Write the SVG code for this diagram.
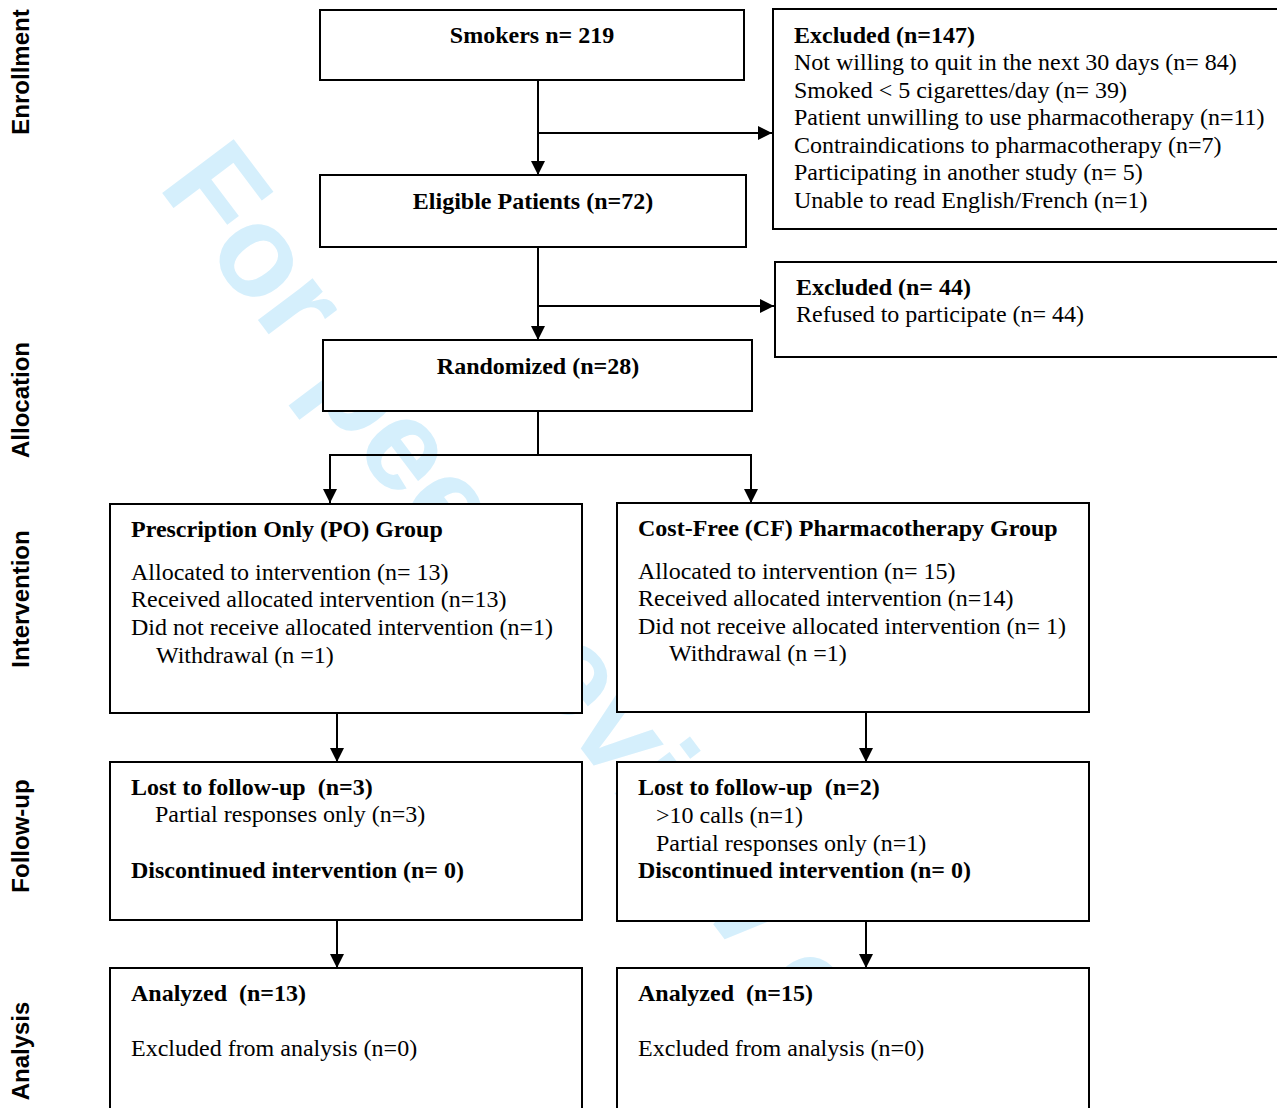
<svg xmlns="http://www.w3.org/2000/svg" width="1277" height="1108" viewBox="0 0 1277 1108">
<style>
.box{fill:#fff;stroke:#000;stroke-width:2}
.t{font-family:"Liberation Serif","Times New Roman",serif;font-size:24px;fill:#000}
.b{font-weight:bold}
.side{font-family:"Liberation Sans",Arial,sans-serif;font-size:24px;font-weight:bold;fill:#000;text-anchor:middle}
.wm{font-family:"Liberation Sans",Arial,sans-serif;font-size:130px;font-weight:bold;fill:#d5effc}
.c{fill:none;stroke:#000;stroke-width:2}
.mid{text-anchor:middle}
</style>
<defs>
<marker id="ah" markerWidth="14" markerHeight="14" viewBox="0 0 14 14" refX="14" refY="7" orient="auto" markerUnits="userSpaceOnUse">
<path d="M0,0 L14,7 L0,14 Z" fill="#000"/>
</marker>
</defs>
<rect width="1277" height="1108" fill="#fff"/>
<text class="wm" transform="translate(157,186) rotate(53)">For peer review only</text>

<g id="side-labels">
<text class="side" transform="translate(29,72) rotate(-90)">Enrollment</text>
<text class="side" transform="translate(29,400) rotate(-90)">Allocation</text>
<text class="side" transform="translate(29,599) rotate(-90)">Intervention</text>
<text class="side" transform="translate(29,836) rotate(-90)">Follow-up</text>
<text class="side" transform="translate(29,1051) rotate(-90)">Analysis</text>
</g>

<g id="connectors">
<path class="c" d="M538,80 V175" marker-end="url(#ah)"/>
<path class="c" d="M538,133 H772" marker-end="url(#ah)"/>
<path class="c" d="M538,247 V340" marker-end="url(#ah)"/>
<path class="c" d="M538,306 H774" marker-end="url(#ah)"/>
<path class="c" d="M538,411 V455"/>
<path class="c" d="M330,455 H752"/>
<path class="c" d="M330,454 V503" marker-end="url(#ah)"/>
<path class="c" d="M751,454 V503" marker-end="url(#ah)"/>
<path class="c" d="M337,713 V762" marker-end="url(#ah)"/>
<path class="c" d="M866,712 V762" marker-end="url(#ah)"/>
<path class="c" d="M337,920 V968" marker-end="url(#ah)"/>
<path class="c" d="M866,921 V968" marker-end="url(#ah)"/>
</g>

<g id="smokers">
<rect class="box" x="320" y="10" width="424" height="70"/>
<text class="t b mid" x="532" y="43">Smokers n= 219</text>
</g>

<g id="excluded-147">
<rect class="box" x="773" y="9" width="520" height="220"/>
<text class="t b" x="794" y="43">Excluded (n=147)</text>
<text class="t" x="794" y="70">Not willing to quit in the next 30 days (n= 84)</text>
<text class="t" x="794" y="98">Smoked &lt; 5 cigarettes/day (n= 39)</text>
<text class="t" x="794" y="125">Patient unwilling to use pharmacotherapy (n=11)</text>
<text class="t" x="794" y="153">Contraindications to pharmacotherapy (n=7)</text>
<text class="t" x="794" y="180">Participating in another study (n= 5)</text>
<text class="t" x="794" y="208">Unable to read English/French (n=1)</text>
</g>

<g id="eligible">
<rect class="box" x="320" y="175" width="426" height="72"/>
<text class="t b mid" x="533" y="209">Eligible Patients (n=72)</text>
</g>

<g id="excluded-44">
<rect class="box" x="775" y="262" width="520" height="95"/>
<text class="t b" x="796" y="295">Excluded (n= 44)</text>
<text class="t" x="796" y="322">Refused to participate (n= 44)</text>
</g>

<g id="randomized">
<rect class="box" x="323" y="340" width="429" height="71"/>
<text class="t b mid" x="538" y="374">Randomized (n=28)</text>
</g>

<g id="po-group">
<rect class="box" x="110" y="504" width="472" height="209"/>
<text class="t b" x="131" y="537">Prescription Only (PO) Group</text>
<text class="t" x="131" y="580">Allocated to intervention (n= 13)</text>
<text class="t" x="131" y="607">Received allocated intervention (n=13)</text>
<text class="t" x="131" y="635">Did not receive allocated intervention (n=1)</text>
<text class="t" x="156" y="663">Withdrawal (n =1)</text>
</g>

<g id="cf-group">
<rect class="box" x="617" y="503" width="472" height="209"/>
<text class="t b" x="638" y="536">Cost-Free (CF) Pharmacotherapy Group</text>
<text class="t" x="638" y="579">Allocated to intervention (n= 15)</text>
<text class="t" x="638" y="606">Received allocated intervention (n=14)</text>
<text class="t" x="638" y="634">Did not receive allocated intervention (n= 1)</text>
<text class="t" x="669" y="661">Withdrawal (n =1)</text>
</g>

<g id="po-followup">
<rect class="box" x="110" y="762" width="472" height="158"/>
<text class="t b" x="131" y="795" xml:space="preserve">Lost to follow-up  (n=3)</text>
<text class="t" x="155" y="822">Partial responses only (n=3)</text>
<text class="t b" x="131" y="878">Discontinued intervention (n= 0)</text>
</g>

<g id="cf-followup">
<rect class="box" x="617" y="762" width="472" height="159"/>
<text class="t b" x="638" y="795" xml:space="preserve">Lost to follow-up  (n=2)</text>
<text class="t" x="656" y="823">&gt;10 calls (n=1)</text>
<text class="t" x="656" y="851">Partial responses only (n=1)</text>
<text class="t b" x="638" y="878">Discontinued intervention (n= 0)</text>
</g>

<g id="po-analysis">
<rect class="box" x="110" y="968" width="472" height="160"/>
<text class="t b" x="131" y="1001" xml:space="preserve">Analyzed  (n=13)</text>
<text class="t" x="131" y="1056">Excluded from analysis (n=0)</text>
</g>

<g id="cf-analysis">
<rect class="box" x="617" y="968" width="472" height="160"/>
<text class="t b" x="638" y="1001" xml:space="preserve">Analyzed  (n=15)</text>
<text class="t" x="638" y="1056">Excluded from analysis (n=0)</text>
</g>
</svg>
